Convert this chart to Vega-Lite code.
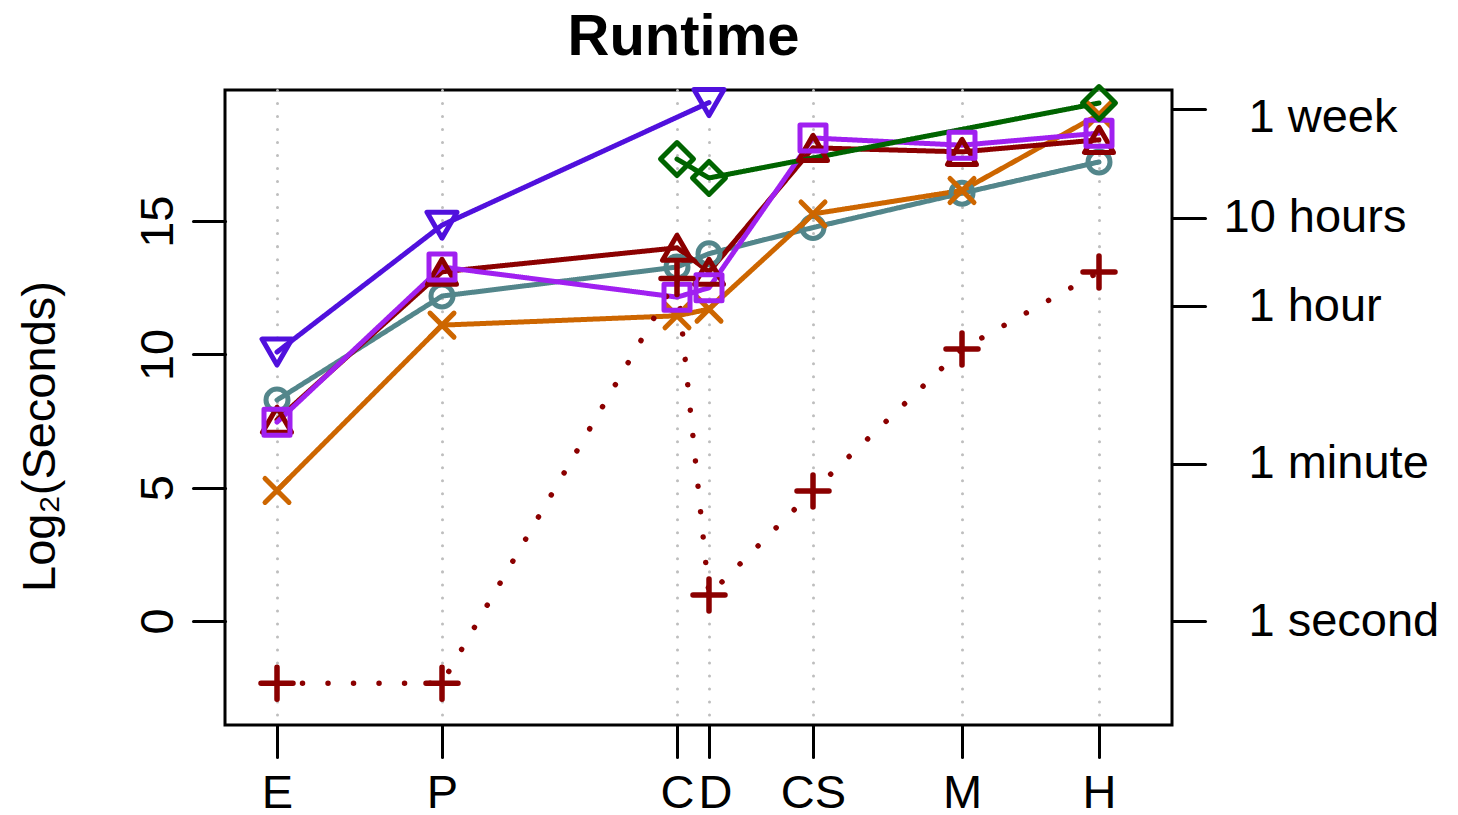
{
  "$schema": "https://vega.github.io/schema/vega-lite/v6.json",
  "width": 947,
  "height": 635,
  "autosize": {"type": "none"},
  "padding": {"left": 225, "top": 90, "right": 286, "bottom": 90},
  "background": "white",
  "config": {"view": {"stroke": "black", "strokeWidth": 3}, "font": "Liberation Sans"},
  "title": {"text": "Runtime", "font": "Liberation Sans", "fontSize": 58, "fontWeight": "bold", "anchor": "middle", "dx": -15, "offset": 17, "color": "black"},
  "data": {
    "values": [
      {"series": "s1_teal", "method": "E", "pos": 52, "log2sec": 8.29},
      {"series": "s1_teal", "method": "P", "pos": 217, "log2sec": 12.19},
      {"series": "s1_teal", "method": "C", "pos": 452, "log2sec": 13.28},
      {"series": "s1_teal", "method": "D", "pos": 484, "log2sec": 13.78},
      {"series": "s1_teal", "method": "CS", "pos": 588, "log2sec": 14.76},
      {"series": "s1_teal", "method": "M", "pos": 737, "log2sec": 16.05},
      {"series": "s1_teal", "method": "H", "pos": 874, "log2sec": 17.22},
      {"series": "s2_orange", "method": "E", "pos": 52, "log2sec": 4.9},
      {"series": "s2_orange", "method": "P", "pos": 217, "log2sec": 11.1},
      {"series": "s2_orange", "method": "C", "pos": 452, "log2sec": 11.45},
      {"series": "s2_orange", "method": "D", "pos": 484, "log2sec": 11.7},
      {"series": "s2_orange", "method": "CS", "pos": 588, "log2sec": 15.27},
      {"series": "s2_orange", "method": "M", "pos": 737, "log2sec": 16.15},
      {"series": "s2_orange", "method": "H", "pos": 874, "log2sec": 19.0},
      {"series": "s3_darkred", "method": "E", "pos": 52, "log2sec": 7.55},
      {"series": "s3_darkred", "method": "P", "pos": 217, "log2sec": 13.1},
      {"series": "s3_darkred", "method": "C", "pos": 452, "log2sec": 14.0},
      {"series": "s3_darkred", "method": "D", "pos": 484, "log2sec": 13.1},
      {"series": "s3_darkred", "method": "CS", "pos": 588, "log2sec": 17.75},
      {"series": "s3_darkred", "method": "M", "pos": 737, "log2sec": 17.6},
      {"series": "s3_darkred", "method": "H", "pos": 874, "log2sec": 18.05},
      {"series": "s4_purple", "method": "E", "pos": 52, "log2sec": 7.46},
      {"series": "s4_purple", "method": "P", "pos": 217, "log2sec": 13.28},
      {"series": "s4_purple", "method": "C", "pos": 452, "log2sec": 12.15},
      {"series": "s4_purple", "method": "D", "pos": 484, "log2sec": 12.5},
      {"series": "s4_purple", "method": "CS", "pos": 588, "log2sec": 18.12},
      {"series": "s4_purple", "method": "M", "pos": 737, "log2sec": 17.85},
      {"series": "s4_purple", "method": "H", "pos": 874, "log2sec": 18.3},
      {"series": "s5_green", "method": "C", "pos": 452, "log2sec": 17.33},
      {"series": "s5_green", "method": "D", "pos": 484, "log2sec": 16.62},
      {"series": "s5_green", "method": "H", "pos": 874, "log2sec": 19.43},
      {"series": "s6_blue", "method": "E", "pos": 52, "log2sec": 10.09},
      {"series": "s6_blue", "method": "P", "pos": 217, "log2sec": 14.85},
      {"series": "s6_blue", "method": "D", "pos": 484, "log2sec": 19.45},
      {"series": "s7_plus", "method": "E", "pos": 52, "log2sec": -2.33},
      {"series": "s7_plus", "method": "P", "pos": 217, "log2sec": -2.33},
      {"series": "s7_plus", "method": "C", "pos": 452, "log2sec": 12.85},
      {"series": "s7_plus", "method": "D", "pos": 484, "log2sec": 0.98},
      {"series": "s7_plus", "method": "CS", "pos": 588, "log2sec": 4.88},
      {"series": "s7_plus", "method": "M", "pos": 737, "log2sec": 10.2},
      {"series": "s7_plus", "method": "H", "pos": 874, "log2sec": 13.09}
    ]
  },
  "layer": [
    {
      "mark": {"type": "line", "strokeCap": "round", "strokeJoin": "round"},
      "encoding": {
        "x": {
          "field": "pos", "type": "quantitative", "title": null,
          "scale": {"domain": [0, 947], "nice": false, "zero": false},
          "axis": {
            "orient": "bottom", "values": [52, 217, 452, 484, 588, 737, 874],
            "labelExpr": "datum.value == 52 ? 'E' : datum.value == 217 ? 'P' : datum.value == 452 ? 'C' : datum.value == 484 ? 'D' : datum.value == 588 ? 'CS' : datum.value == 737 ? 'M' : 'H'",
            "domain": false, "grid": true, "gridColor": "#BEBEBE", "gridDash": [0.01, 13], "gridCap": "round", "gridWidth": 3,
            "ticks": true, "tickSize": 32, "tickWidth": 3, "tickColor": "black", "tickCap": "round",
            "labelFont": "Liberation Sans", "labelFontSize": 47, "labelColor": "black", "labelAngle": 0,
            "labelAlign": "center", "labelBaseline": "top", "labelPadding": 13, "labelLimit": 0,
            "labelFlush": false, "labelOverlap": false, "labelBound": false,
            "labelOffset": {"condition": {"test": "datum.value == 484", "value": 6}, "value": 0}
          }
        },
        "y": {
          "field": "log2sec", "type": "quantitative",
          "scale": {"domain": [-3.9, 19.92], "nice": false, "zero": false},
          "axis": {
            "orient": "left", "values": [0, 5, 10, 15], "domain": false, "grid": false,
            "ticks": true, "tickSize": 32, "tickWidth": 3, "tickColor": "black", "tickCap": "round",
            "labelFont": "Liberation Sans", "labelFontSize": 47, "labelColor": "black", "labelAngle": -90,
            "labelAlign": "center", "labelBaseline": "alphabetic", "labelPadding": 21, "labelOverlap": false, "labelFlush": false, "labelLimit": 0,
            "title": "Log₂(Seconds)", "titleFont": "Liberation Sans", "titleFontSize": 47, "titleFontWeight": "normal",
            "titleColor": "black", "titleAngle": -90, "titleX": -185, "titleY": 346, "titleAlign": "center", "titleBaseline": "middle", "titleLimit": 0
          }
        },
        "color": {
          "field": "series", "type": "nominal", "legend": null,
          "scale": {
            "domain": ["s1_teal", "s2_orange", "s3_darkred", "s4_purple", "s5_green", "s6_blue", "s7_plus"],
            "range": ["#53868B", "#CD6600", "#8B0000", "#A020F0", "#006400", "#5010DD", "#8B0000"]
          }
        },
        "strokeDash": {
          "field": "series", "type": "nominal", "legend": null,
          "scale": {
            "type": "ordinal",
            "domain": ["s1_teal", "s2_orange", "s3_darkred", "s4_purple", "s5_green", "s6_blue", "s7_plus"],
            "range": [[1, 0], [1, 0], [1, 0], [1, 0], [1, 0], [1, 0], [0.01, 25.5]]
          }
        },
        "strokeWidth": {
          "field": "series", "type": "nominal", "legend": null,
          "scale": {
            "type": "ordinal",
            "domain": ["s1_teal", "s2_orange", "s3_darkred", "s4_purple", "s5_green", "s6_blue", "s7_plus"],
            "range": [5, 5, 5, 5, 5, 5, 5.5]
          }
        }
      }
    },
    {
      "mark": {"type": "point", "filled": false, "opacity": 1, "strokeCap": "round", "strokeJoin": "round"},
      "encoding": {
        "x": {"field": "pos", "type": "quantitative", "title": null, "scale": {"domain": [0, 947], "nice": false, "zero": false}},
        "y": {
          "field": "log2sec", "type": "quantitative",
          "scale": {"domain": [-3.9, 19.92], "nice": false, "zero": false},
          "axis": {
            "orient": "right", "values": [0, 5.9069, 11.8138, 15.1357, 19.2061],
            "labelExpr": "datum.value < 1 ? '1 second' : datum.value < 7 ? '1 minute' : datum.value < 13 ? '1 hour' : datum.value < 17 ? '10 hours' : '1 week'",
            "domain": false, "grid": false, "title": null,
            "ticks": true, "tickSize": 33, "tickWidth": 3, "tickColor": "black", "tickCap": "round",
            "labelFont": "Liberation Sans", "labelFontSize": 47, "labelColor": "black", "labelAngle": 0,
            "labelAlign": "left", "labelBaseline": "middle", "labelOverlap": false, "labelFlush": false, "labelLimit": 0,
            "labelPadding": {"condition": {"test": "datum.value > 15 && datum.value < 16", "value": 18}, "value": 43},
            "labelOffset": {"condition": {"test": "datum.value > 19", "value": 8}, "value": 0}
          }
        },
        "color": {
          "field": "series", "type": "nominal", "legend": null,
          "scale": {
            "domain": ["s1_teal", "s2_orange", "s3_darkred", "s4_purple", "s5_green", "s6_blue", "s7_plus"],
            "range": ["#53868B", "#CD6600", "#8B0000", "#A020F0", "#006400", "#5010DD", "#8B0000"]
          }
        },
        "shape": {
          "field": "series", "type": "nominal", "legend": null,
          "scale": {
            "domain": ["s1_teal", "s2_orange", "s3_darkred", "s4_purple", "s5_green", "s6_blue", "s7_plus"],
            "range": ["circle", "M-1,-1L1,1M-1,1L1,-1", "triangle-up", "square", "diamond", "triangle-down", "M-1,0L1,0M0,-1L0,1"]
          }
        },
        "size": {
          "field": "series", "type": "nominal", "legend": null,
          "scale": {
            "type": "ordinal",
            "domain": ["s1_teal", "s2_orange", "s3_darkred", "s4_purple", "s5_green", "s6_blue", "s7_plus"],
            "range": [484, 576, 841, 676, 1089, 900, 1024]
          }
        },
        "strokeWidth": {
          "field": "series", "type": "nominal", "legend": null,
          "scale": {
            "type": "ordinal",
            "domain": ["s1_teal", "s2_orange", "s3_darkred", "s4_purple", "s5_green", "s6_blue", "s7_plus"],
            "range": [5, 5, 5, 5, 5, 5, 6.5]
          }
        }
      }
    }
  ],
  "resolve": {"axis": {"y": "independent"}}
}
